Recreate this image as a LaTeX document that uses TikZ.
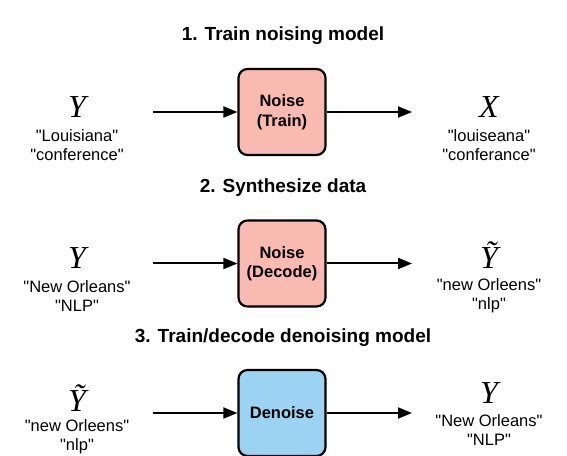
\documentclass[tikz,border=0pt]{standalone}
\usepackage{fontspec}
\setmainfont{Liberation Sans}
\newfontfamily\varfont{Liberation Serif}
\usepackage{tikz}
\usetikzlibrary{arrows.meta,positioning}
\definecolor{noisefill}{RGB}{249,187,177}
\definecolor{denoisefill}{RGB}{156,211,243}
\newcommand\quoted[1]{\textquotedbl#1\textquotedbl}
\tikzset{%
  >={Triangle[length=14pt,width=11pt]}, % filled heads
  model box/.style={draw=black,line width=2.2pt,rounded corners=9pt,
    minimum width=87pt,minimum height=86pt,align=center,inner sep=0pt,
    font=\fontsize{16.5}{19.5}\selectfont\bfseries},
  step title/.style={font=\fontsize{19}{22}\selectfont\bfseries},
  var sym/.style={font=\fontsize{32}{32}\selectfont\varfont\itshape,
    inner sep=0pt,anchor=base},
  var text/.style={align=center,inner sep=0pt,
    font=\fontsize{16.5}{19}\selectfont},
  flow/.style={->,line width=2pt}
}

\begin{document}
\begin{tikzpicture}[x=1pt,y=1pt]
    \useasboundingbox (0,0) rectangle (567,455);
    \def\xL{77} % left column
    \def\xR{489} % right column
    \def\xA{153} % arrow start
    \def\xB{412} % arrow end

    % 1. train the noising model
    \node[step title] (title1) at (283,419) {1. Train noising model};
    \node[model box,fill=noisefill] (noise1) at (282,343) {Noise\\(Train)};
    \node[var sym] (src1) at (\xL,337) {Y};
    \node[var text] (src1t) at (\xL,310) {\quoted{Louisiana}\\\quoted{conference}};
    \node[var sym] (dst1) at (\xR,337) {X};
    \node[var text] (dst1t) at (\xR,310) {\quoted{louiseana}\\\quoted{conferance}};
    \coordinate (in1) at (\xA,343);
    \coordinate (out1) at (\xB,343);
    \draw[flow] (in1) -- (noise1.west);
    \draw[flow] (noise1.east) -- (out1);

    % 2. synthesize data
    \node[step title] (title2) at (283,267) {2. Synthesize data};
    \node[model box,fill=noisefill] (noise2) at (282,191.5) {Noise\\(Decode)};
    \node[var sym] (src2) at (\xL,186) {Y};
    \node[var text] (src2t) at (\xL,159) {\quoted{New Orleans}\\\quoted{NLP}};
    \node[var sym] (dst2) at (\xR,186) {Ỹ};
    \node[var text] (dst2t) at (\xR,159) {\quoted{new Orleens}\\\quoted{nlp}};
    \coordinate (in2) at (\xA,191.5);
    \coordinate (out2) at (\xB,191.5);
    \draw[flow] (in2) -- (noise2.west);
    \draw[flow] (noise2.east) -- (out2);

    % 3. train/decode the denoiser
    \node[step title] (title3) at (283,117) {3. Train/decode denoising model};
    \node[model box,fill=denoisefill] (denoise) at (282,42) {Denoise};
    \node[var sym] (src3) at (\xL,44) {Ỹ};
    \node[var text] (src3t) at (\xL,18) {\quoted{new Orleens}\\\quoted{nlp}};
    \node[var sym] (dst3) at (\xR,52) {Y};
    \node[var text] (dst3t) at (\xR,25) {\quoted{New Orleans}\\\quoted{NLP}};
    \coordinate (in3) at (\xA,42);
    \coordinate (out3) at (\xB,42);
    \draw[flow] (in3) -- (denoise.west);
    \draw[flow] (denoise.east) -- (out3);
\end{tikzpicture}
\end{document}
